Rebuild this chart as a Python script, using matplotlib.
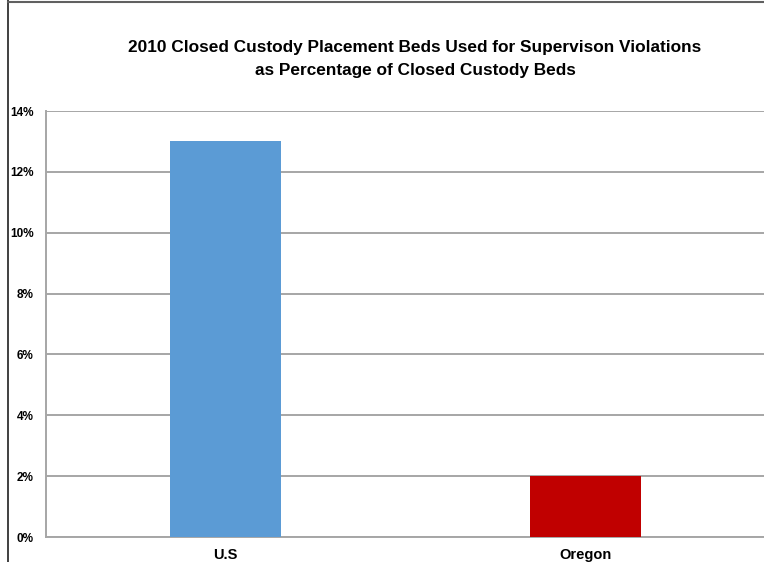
import matplotlib
matplotlib.use("Agg")
import matplotlib.pyplot as plt
from matplotlib.lines import Line2D

categories = ["U.S", "Oregon"]
values = [13.0, 2.0]
bar_colors = ["#5B9BD5", "#C00000"]
yticks = [0, 2, 4, 6, 8, 10, 12, 14]
title = ("2010 Closed Custody Placement Beds Used for Supervison Violations\n"
         "as Percentage of Closed Custody Beds")

plt.rcParams["font.family"] = ["Liberation Sans", "DejaVu Sans"]

fig = plt.figure(figsize=(7.64, 5.62), dpi=100)
ax = fig.add_axes([46 / 764, 1 - 537 / 562, 719 / 764, (537 - 111) / 562])

x = list(range(len(categories)))
ax.bar(x, values, width=0.31, color=bar_colors, zorder=3)
ax.set_xlim(-0.5, 1.5)
ax.set_ylim(0, 14)
ax.set_yticks(yticks)
ax.set_yticklabels([f"{v}%" for v in yticks], fontsize=8.5, fontweight="bold")
ax.set_xticks(x)
ax.set_xticklabels(categories, fontsize=10.5, fontweight="bold")
ax.tick_params(axis="both", length=0)
ax.tick_params(axis="y", pad=9)
ax.tick_params(axis="x", pad=8)
ax.grid(axis="y", color="#a6a6a6", linewidth=1.4, zorder=0)
for s in ["top", "right"]:
    ax.spines[s].set_visible(False)
ax.spines["left"].set_color("#a6a6a6")
ax.spines["left"].set_linewidth(1.4)
ax.spines["bottom"].set_color("#a6a6a6")
ax.spines["bottom"].set_linewidth(1.4)

fig.text(415 / 764, 1 - 59 / 562, title, ha="center", va="center",
         fontsize=12.4, fontweight="bold", linespacing=1.6)

# outer frame lines
fig.add_artist(Line2D([7.5 / 764, 7.5 / 764], [0, 1], color="#202020",
                      linewidth=1.2, transform=fig.transFigure))
fig.add_artist(Line2D([7.5 / 764, 1], [1 - 1.5 / 562, 1 - 1.5 / 562],
                      color="#606060", linewidth=1.5, transform=fig.transFigure))

fig.savefig("out.png", dpi=100, facecolor="white")
